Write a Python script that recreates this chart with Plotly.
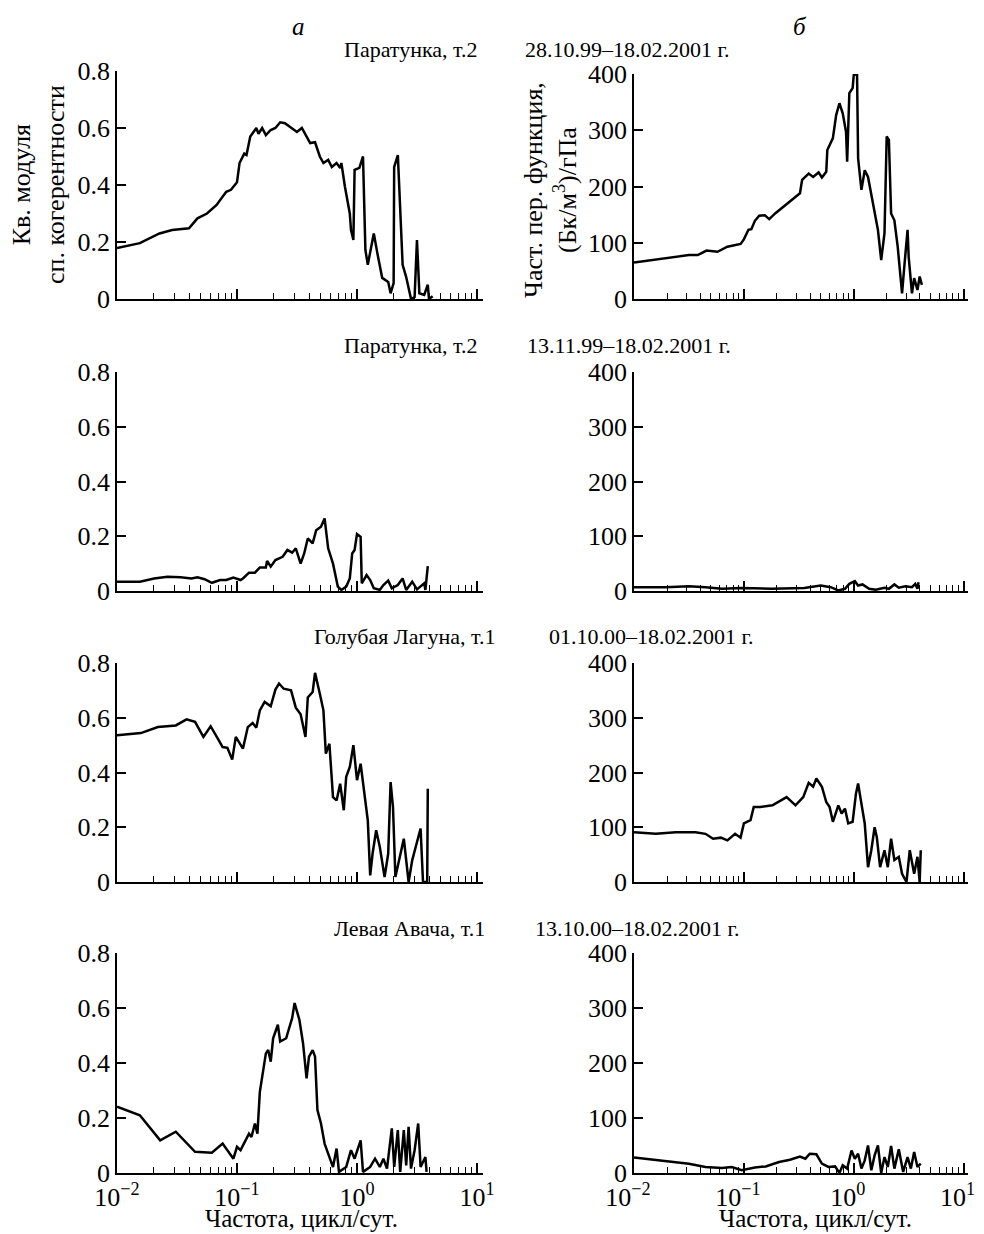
import plotly.graph_objects as go

# ---- column "а": squared coherence modulus, frequency in cycles/day ----
freq_a1 = [0.0100, 0.0155, 0.0226, 0.0288, 0.0398, 0.0468, 0.0562, 0.0676, 0.0813, 0.0891,
           0.100, 0.105, 0.115, 0.120, 0.129, 0.145, 0.151, 0.162, 0.174, 0.191,
           0.209, 0.229, 0.251, 0.282, 0.316, 0.347, 0.380, 0.407, 0.447, 0.490,
           0.525, 0.575, 0.617, 0.676, 0.724, 0.741, 0.794, 0.871, 0.891, 0.933,
           0.955, 1.047, 1.122, 1.175, 1.230, 1.380, 1.479, 1.622, 1.820, 1.905,
           2.02, 2.04, 2.19, 2.29, 2.40, 2.57, 2.82, 3.02, 3.16, 3.31,
           3.63, 3.89, 3.98, 4.27]
coh_a1 = [0.179, 0.196, 0.23, 0.242, 0.248, 0.283, 0.30, 0.33, 0.376, 0.383,
          0.41, 0.477, 0.51, 0.505, 0.57, 0.60, 0.58, 0.60, 0.575, 0.593,
          0.60, 0.62, 0.617, 0.60, 0.586, 0.60, 0.57, 0.547, 0.55, 0.50,
          0.477, 0.488, 0.463, 0.477, 0.46, 0.477, 0.393, 0.30, 0.242, 0.207,
          0.453, 0.46, 0.50, 0.172, 0.12, 0.23, 0.16, 0.074, 0.06, 0.02,
          0.056, 0.463, 0.505, 0.337, 0.12, 0.077, 0.0, 0.007, 0.207, 0.02,
          0.014, 0.05, 0.0, 0.01]

freq_a2 = [0.0100, 0.0155, 0.0204, 0.0263, 0.0339, 0.0417, 0.0468, 0.0537, 0.0617, 0.0724,
           0.0813, 0.0933, 0.107, 0.112, 0.126, 0.141, 0.155, 0.174, 0.178, 0.191,
           0.209, 0.240, 0.263, 0.288, 0.309, 0.339, 0.363, 0.389, 0.427, 0.457,
           0.501, 0.537, 0.575, 0.631, 0.692, 0.741, 0.813, 0.871, 0.912, 0.955,
           1.000, 1.072, 1.096, 1.202, 1.288, 1.380, 1.549, 1.660, 1.820, 1.950,
           2.188, 2.399, 2.570, 2.884, 3.162, 3.631, 3.715, 3.890]
coh_a2 = [0.034, 0.034, 0.046, 0.052, 0.050, 0.046, 0.050, 0.043, 0.030, 0.040,
          0.040, 0.049, 0.040, 0.046, 0.067, 0.067, 0.086, 0.086, 0.11, 0.089,
          0.113, 0.125, 0.150, 0.14, 0.156, 0.10, 0.137, 0.192, 0.174, 0.222,
          0.235, 0.265, 0.156, 0.10, 0.016, 0.004, 0.016, 0.046, 0.137, 0.15,
          0.208, 0.198, 0.028, 0.058, 0.04, 0.01, 0.004, 0.022, 0.038, 0.01,
          0.022, 0.046, 0.004, 0.034, 0.006, 0.028, 0.004, 0.091]

freq_a3 = [0.0100, 0.0158, 0.0219, 0.0309, 0.0380, 0.0447, 0.0525, 0.0603, 0.0692, 0.0759,
           0.0832, 0.0912, 0.0977, 0.112, 0.123, 0.135, 0.145, 0.155, 0.170, 0.191,
           0.209, 0.224, 0.245, 0.282, 0.309, 0.339, 0.372, 0.389, 0.427, 0.447,
           0.490, 0.525, 0.550, 0.589, 0.631, 0.676, 0.724, 0.776, 0.813, 0.871,
           0.933, 1.000, 1.072, 1.148, 1.230, 1.288, 1.349, 1.445, 1.549, 1.698,
           1.820, 1.905, 1.995, 2.089, 2.291, 2.455, 2.692, 2.884, 3.162, 3.388,
           3.548, 3.846, 3.890]
coh_a3 = [0.536, 0.544, 0.566, 0.572, 0.594, 0.585, 0.53, 0.569, 0.524, 0.493,
          0.49, 0.447, 0.53, 0.487, 0.566, 0.581, 0.564, 0.627, 0.658, 0.642,
          0.703, 0.725, 0.706, 0.70, 0.637, 0.613, 0.53, 0.674, 0.694, 0.764,
          0.688, 0.627, 0.469, 0.505, 0.31, 0.298, 0.359, 0.262, 0.384, 0.42,
          0.50, 0.372, 0.432, 0.323, 0.225, 0.024, 0.104, 0.189, 0.128, 0.018,
          0.104, 0.365, 0.274, 0.018, 0.104, 0.158, 0.0, 0.079, 0.146, 0.195,
          0.0, 0.0, 0.341]

freq_a4 = [0.0100, 0.0155, 0.0229, 0.0309, 0.0447, 0.0617, 0.0759, 0.0933, 0.100, 0.107,
           0.126, 0.132, 0.141, 0.148, 0.155, 0.174, 0.182, 0.191, 0.200, 0.219,
           0.229, 0.257, 0.269, 0.288, 0.302, 0.331, 0.355, 0.380, 0.398, 0.427,
           0.447, 0.468, 0.501, 0.537, 0.589, 0.631, 0.676, 0.708, 0.813, 0.891,
           0.955, 1.072, 1.122, 1.288, 1.413, 1.549, 1.660, 1.778, 1.950, 2.042,
           2.188, 2.291, 2.455, 2.570, 2.692, 2.818, 3.020, 3.236, 3.388, 3.715,
           3.802]
coh_a4 = [0.241, 0.21, 0.119, 0.15, 0.077, 0.074, 0.107, 0.052, 0.095, 0.083,
          0.143, 0.131, 0.18, 0.143, 0.295, 0.435, 0.447, 0.405, 0.49, 0.539,
          0.478, 0.49, 0.52, 0.563, 0.618, 0.557, 0.472, 0.344, 0.423, 0.447,
          0.423, 0.229, 0.18, 0.107, 0.058, 0.022, 0.089, 0.004, 0.022, 0.083,
          0.052, 0.119, 0.004, 0.022, 0.052, 0.022, 0.052, 0.016, 0.162, 0.022,
          0.156, 0.004, 0.156, 0.028, 0.168, 0.016, 0.083, 0.18, 0.022, 0.058,
          0.004]

# ---- column "б": partial transfer function, (Bq/m3)/hPa ----
freq_b1 = [0.0100, 0.0182, 0.0316, 0.0380, 0.0457, 0.0575, 0.0708, 0.0933, 0.100, 0.110,
           0.117, 0.126, 0.138, 0.155, 0.170, 0.195, 0.240, 0.302, 0.324, 0.339,
           0.389, 0.427, 0.479, 0.513, 0.562, 0.575, 0.646, 0.692, 0.741, 0.794,
           0.851, 0.871, 0.912, 0.977, 1.000, 1.072, 1.096, 1.175, 1.259, 1.349,
           1.445, 1.549, 1.660, 1.778, 1.905, 1.995, 2.089, 2.188, 2.344, 2.512,
           2.754, 2.884, 3.090, 3.162, 3.388, 3.548, 3.802, 3.981, 4.169]
tf_b1 = [65, 72, 78, 78, 86, 84, 93, 98, 106, 123,
         124, 139, 148, 149, 142, 153, 167, 182, 188, 212,
         223, 217, 225, 216, 226, 265, 286, 327, 348, 330,
         297, 244, 366, 375, 398, 400, 250, 194, 229, 217,
         185, 152, 123, 69, 117, 289, 283, 152, 140, 93,
         10, 57, 123, 75, 10, 37, 16, 40, 25]

freq_b2 = [0.0100, 0.0195, 0.0316, 0.0447, 0.0631, 0.0955, 0.178, 0.355, 0.501, 0.617,
           0.724, 0.832, 0.912, 1.023, 1.096, 1.202, 1.380, 1.585, 1.905, 2.089,
           2.344, 2.570, 2.951, 3.388, 3.631, 3.802, 3.890]
tf_b2 = [7, 7, 8.5, 7, 4, 5.5, 4, 5.5, 10, 7,
         1, 4, 13, 18, 10, 12, 4, 2.5, 6, 4,
         12, 6, 8.5, 7, 13, 4, 16]

freq_b3 = [0.0100, 0.0158, 0.0240, 0.0363, 0.0447, 0.0525, 0.0617, 0.0708, 0.0832, 0.0933,
           0.100, 0.115, 0.123, 0.141, 0.182, 0.224, 0.245, 0.295, 0.347, 0.389,
           0.427, 0.457, 0.513, 0.562, 0.603, 0.646, 0.724, 0.776, 0.832, 0.891,
           0.977, 1.047, 1.096, 1.175, 1.259, 1.349, 1.445, 1.549, 1.622, 1.738,
           1.905, 2.042, 2.188, 2.344, 2.570, 2.754, 3.020, 3.236, 3.548, 3.802,
           3.981, 4.074]
tf_b3 = [91, 88, 91, 91, 88, 79, 81, 76, 88, 81,
         107, 113, 137, 137, 140, 150, 155, 140, 155, 181,
         174, 189, 174, 146, 137, 110, 140, 125, 134, 107,
         110, 161, 180, 143, 107, 27, 58, 100, 82, 27,
         58, 27, 79, 40, 46, 15, 0, 58, 15, 46,
         0, 58]

freq_b4 = [0.0100, 0.0182, 0.0316, 0.0447, 0.0631, 0.0776, 0.0955, 0.126, 0.158, 0.209,
           0.263, 0.324, 0.363, 0.398, 0.457, 0.513, 0.589, 0.676, 0.741, 0.794,
           0.871, 0.955, 1.023, 1.096, 1.175, 1.259, 1.349, 1.445, 1.549, 1.660,
           1.778, 1.905, 2.042, 2.188, 2.344, 2.570, 2.818, 3.090, 3.311, 3.548,
           3.802, 4.074]
tf_b4 = [28, 22, 17, 11, 9, 11, 5, 10, 12, 20,
         24, 30, 26, 35, 34, 17, 11, 12, 0, 14,
         8, 41, 26, 35, 8, 23, 50, 5, 32, 50,
         0, 29, 11, 49, 8, 43, 2, 29, 8, 38,
         11, 17]

station_labels = ["Паратунка, т.2", "Паратунка, т.2", "Голубая Лагуна, т.1", "Левая Авача, т.1"]
period_labels = ["28.10.99–18.02.2001 г.", "13.11.99–18.02.2001 г.",
                 "01.10.00–18.02.2001 г.", "13.10.00–18.02.2001 г."]
coh_ticks = [0, 0.2, 0.4, 0.6, 0.8]
coh_ticktext = ["0", "0.2", "0.4", "0.6", "0.8"]
tf_ticks = [0, 100, 200, 300, 400]
freq_ticks = [0.01, 0.1, 1, 10]
freq_ticktext = ["10<sup>−2</sup>", "10<sup>−1</sup>", "10<sup>0</sup>", "10<sup>1</sup>"]
freq_minor = [m * d for d in (0.01, 0.1, 1) for m in range(2, 10)]

W, H = 984, 1234
PAGE_PAD = 8  # the page body margin shifts the figure by this much
FONT = "Liberation Serif, Times New Roman, serif"

# panel boxes in screen pixels: (x0, x1) and (y_top, y_bottom)
left_x = (117, 483)
right_x = (634, 968)
rows_left = [(71, 299), (372, 591), (663, 882), (953, 1173)]
rows_right = [(74, 299), (372, 591), (663, 882), (953, 1173)]

panels = [
    (freq_a1, coh_a1, freq_b1, tf_b1),
    (freq_a2, coh_a2, freq_b2, tf_b2),
    (freq_a3, coh_a3, freq_b3, tf_b3),
    (freq_a4, coh_a4, freq_b4, tf_b4),
]

fig = go.Figure()
layout = {}


def px_x(x):
    return (x - PAGE_PAD) / W


def px_y(y):
    return 1 - (y - PAGE_PAD) / H


def axis_common():
    return dict(
        showline=True, linecolor="black", linewidth=1.5, mirror=False,
        showgrid=False, zeroline=False, ticks="inside", tickcolor="black",
        tickwidth=1.5, automargin=False,
        tickfont=dict(family=FONT, size=26, color="black"),
    )


n = 0
for r, (fa, ya, fb, yb) in enumerate(panels):
    bottom = r == 3
    for side in ("left", "right"):
        n += 1
        sfx = "" if n == 1 else str(n)
        if side == "left":
            xs, ys = fa, ya
            xpx, ypx = left_x, rows_left[r]
            xrange = [-2, 1.05]
            yax = dict(range=[0, 0.8], tickvals=coh_ticks, ticktext=coh_ticktext)
        else:
            xs, ys = fb, yb
            xpx, ypx = right_x, rows_right[r]
            xrange = [-2, 1.04]
            yax = dict(range=[0, 400], tickvals=tf_ticks)
        fig.add_trace(go.Scatter(
            x=xs, y=ys, mode="lines",
            line=dict(color="black", width=2.5),
            xaxis="x" + sfx, yaxis="y" + sfx, showlegend=False,
        ))
        xa = axis_common()
        xa.update(
            type="log", domain=[px_x(xpx[0]), px_x(xpx[1])], range=xrange,
            anchor="y" + sfx, tickmode="array", tickvals=freq_ticks,
            ticktext=freq_ticktext, ticklen=10, showticklabels=bottom,
            minor=dict(tickmode="array", tickvals=freq_minor, ticks="inside",
                       ticklen=6, tickwidth=1.2, tickcolor="black", showgrid=False),
        )
        if bottom and side == "right":
            # keep the last label (10^1) inside the window
            xa["ticklabelshift"] = -6
        ya_ = axis_common()
        ya_.update(domain=[px_y(ypx[1]), px_y(ypx[0])], anchor="x" + sfx,
                   ticklen=9, tickmode="array", **yax)
        layout["xaxis" + sfx] = xa
        layout["yaxis" + sfx] = ya_

annotations = []


def note(text, x, y, size, xanchor="center", yanchor="middle", angle=0, italic=False):
    annotations.append(dict(
        text=text, x=px_x(x), y=px_y(y), xref="paper", yref="paper",
        xanchor=xanchor, yanchor=yanchor, showarrow=False, textangle=angle,
        font=dict(family=FONT, size=size, color="black",
                  style="italic" if italic else "normal"),
    ))


note("а", 298, 27, 25, italic=True)
note("б", 800, 27, 25, italic=True)

station_y = [49, 345, 636, 928]
station_right = [480, 480, 497, 487]
period_left = [523, 525, 547, 533]
for i in range(4):
    note(station_labels[i], station_right[i], station_y[i], 22, xanchor="right")
    note(period_labels[i], period_left[i], station_y[i], 22, xanchor="left")

note("Кв. модуля<br>сп. когерентности", 39, 185, 26, angle=-90)
note("Част. пер. функция,<br>(Бк/м<sup>3</sup>)/гПа", 550, 190, 26, angle=-90)
note("Частота, цикл/сут.", 301, 1218, 25)
note("Частота, цикл/сут.", 815, 1218, 25)

fig.update_layout(
    width=W, height=H,
    margin=dict(l=0, r=0, t=0, b=0, autoexpand=False),
    paper_bgcolor="white", plot_bgcolor="white",
    font=dict(family=FONT, color="black"),
    annotations=annotations,
    **layout,
)

fig.write_html("out.html")
